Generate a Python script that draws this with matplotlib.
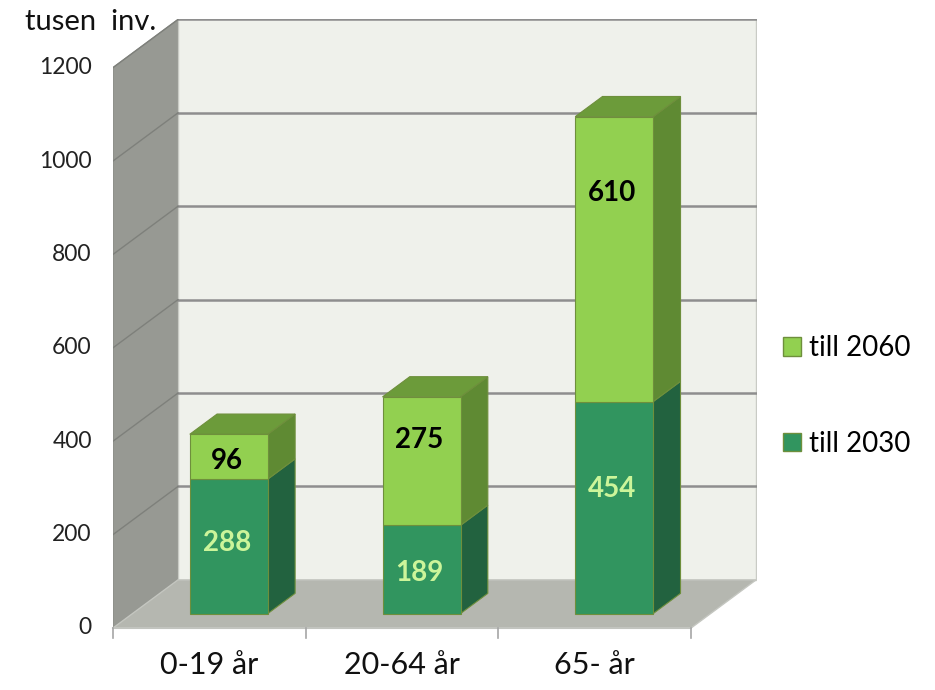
import numpy as np
import matplotlib
matplotlib.use('Agg')
import matplotlib.pyplot as plt
from matplotlib.patches import Patch

plt.rcParams['font.family'] = ['Lato', 'DejaVu Sans']

# Data
categories = ['0-19 år', '20-64 år', '65- år']
till_2030 = [288, 189, 454]
till_2060 = [96, 275, 610]
y_ticks = [0, 200, 400, 600, 800, 1000, 1200]
y_max = 1200

# where the value labels sit (value units, as in the picture)
lab_y_2030 = [182, 118, 298]
lab_y_2060 = [358, 403, 931]

# colours
c_back = '#EFF1EB'
c_left = '#979993'
c_floor = '#B5B7B0'
c_grid = '#8E8E8E'
c30_front, c30_side = '#31955F', '#22623F'
c60_front, c60_side, c60_top = '#92D050', '#5F8A33', '#6C9B3A'
c_edge = '#6E8F3C'

# pseudo 3D: depth offset in data units
DX = 0.337
DY = 103.0
f0, f1 = 0.30, 0.72   # bar front / back depth
w = 0.405

fig = plt.figure(figsize=(9.35, 6.9), dpi=100)
ax = fig.add_axes([113 / 935, 62 / 690, 644 / 935, 609 / 690])
ax.set_xlim(0, 644 / 192.7)
ax.set_ylim(0, 609 / 0.467)
ax.axis('off')

n = len(categories)

# walls and floor
ax.fill([0, DX, DX, 0], [0, DY, y_max + DY, y_max], color=c_left, ec='#8A8C86', lw=0.8, zorder=1)
ax.fill([DX, n + DX, n + DX, DX], [DY, DY, y_max + DY, y_max + DY], color=c_back,
        ec='#C9CBC5', lw=1, zorder=1)
ax.fill([0, n, n + DX, DX], [0, 0, DY, DY], color=c_floor, ec='#C4C6C0', lw=1, zorder=1)

for t in y_ticks[1:]:
    ax.plot([DX, n + DX], [t + DY, t + DY], color=c_grid, lw=1.8, zorder=2)
    ax.plot([0, DX], [t, t + DY], color='#7E807B', lw=1, zorder=2)
for t in y_ticks:
    ax.text(-0.11, t, str(t), ha='right', va='center', fontsize=16.5, color='#222222')

# axis line + ticks
ax.plot([0, n], [0, 0], color='#C2C4BF', lw=1.5, zorder=2, clip_on=False)
for i in range(n + 1):
    ax.plot([i, i], [0, -22], color='#A6A6A6', lw=1.2, clip_on=False)
for i, c in enumerate(categories):
    ax.text(i + 0.5, -80, c, ha='center', va='center', fontsize=22, color='#111111')


def box(x0, y0, y1, front, side, top=None):
    xa = x0 + f0 * DX
    ya0, ya1 = y0 + f0 * DY, y1 + f0 * DY
    ddx, ddy = (f1 - f0) * DX, (f1 - f0) * DY
    ax.fill([xa, xa + w, xa + w, xa], [ya0, ya0, ya1, ya1], color=front, ec=c_edge, lw=0.8, zorder=5)
    ax.fill([xa + w, xa + w + ddx, xa + w + ddx, xa + w], [ya0, ya0 + ddy, ya1 + ddy, ya1],
            color=side, ec=c_edge, lw=0.8, zorder=4)
    if top is not None:
        ax.fill([xa, xa + w, xa + w + ddx, xa + ddx], [ya1, ya1, ya1 + ddy, ya1 + ddy],
                color=top, ec=c_edge, lw=0.8, zorder=4)
    return xa + w / 2


for i in range(n):
    x0 = i + 0.5 - w / 2
    a, b = till_2030[i], till_2060[i]
    cx = box(x0, 0, a, c30_front, c30_side)
    ax.text(cx - 0.01, lab_y_2030[i], str(a), ha='center', va='center', fontsize=20,
            fontweight='bold', color='#CCF59A', zorder=6)
    cx = box(x0, a, a + b, c60_front, c60_side, c60_top)
    ax.text(cx - 0.01, lab_y_2060[i], str(b), ha='center', va='center', fontsize=20,
            fontweight='bold', color='black', zorder=6)

fig.text(25 / 935, 1 - 22 / 690, 'tusen  inv.', ha='left', va='center', fontsize=21, color='#111111')

handles = [Patch(facecolor=c60_front, edgecolor=c_edge, label='till 2060'),
           Patch(facecolor=c30_front, edgecolor=c_edge, label='till 2030')]
fig.legend(handles=handles, loc='center left', bbox_to_anchor=(783 / 935, 1 - 396 / 690),
           frameon=False, fontsize=20, handlelength=0.65, handleheight=0.65,
           handletextpad=0.3, labelspacing=2.5, borderpad=0, borderaxespad=0)

fig.savefig('out.png', dpi=100, facecolor='white')
